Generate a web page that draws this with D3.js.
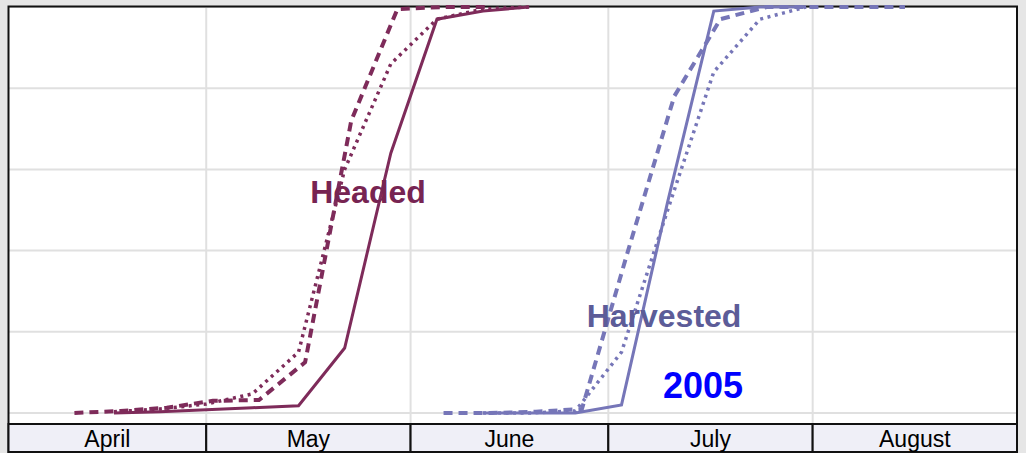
<!DOCTYPE html>
<html>
<head>
<meta charset="utf-8">
<script src="https://cdn.jsdelivr.net/npm/d3@7"></script>
<style>
  body { margin: 0; background: #e6e6e6; }
  svg { display: block; }
</style>
</head>
<body>
<div id="chart"></div>
<script>

// month labels along the bottom band
var months = ["April", "May", "June", "July", "August"];
var yTicks = [0, 20, 40, 60, 80, 100];

// Headed - current year (solid)
var headedSolidDates  = ["2005-04-17","2005-04-24","2005-05-01","2005-05-08","2005-05-15","2005-05-22","2005-05-29","2005-06-05","2005-06-12","2005-06-19"];
var headedSolidValues = [0, 0.3, 0.8, 1.3, 1.8, 16, 64, 97, 99, 100];
// Headed - last year (dashed)
var headedDashedDates  = ["2005-04-11","2005-04-18","2005-04-25","2005-05-02","2005-05-09","2005-05-16","2005-05-23","2005-05-30","2005-06-06","2005-06-13"];
var headedDashedValues = [0, 0.5, 1.3, 3, 3.2, 12.5, 72, 99.5, 100, 100];
// Headed - average (dotted)
var headedDottedDates  = ["2005-04-17","2005-04-24","2005-05-01","2005-05-08","2005-05-15","2005-05-22","2005-05-29","2005-06-05","2005-06-12","2005-06-19"];
var headedDottedValues = [0.3, 1, 2.2, 4.7, 15, 60, 86, 97, 99.5, 100];

// Harvested - current year (solid)
var harvSolidDates  = ["2005-06-12","2005-06-19","2005-06-26","2005-07-03","2005-07-10","2005-07-17","2005-07-24","2005-07-31"];
var harvSolidValues = [0, 0, 0, 2, 52, 99, 100, 100];
// Harvested - last year (dashed)
var harvDashedDates  = ["2005-06-06","2005-06-13","2005-06-20","2005-06-27","2005-07-04","2005-07-11","2005-07-18","2005-07-25","2005-08-01","2005-08-08","2005-08-15"];
var harvDashedValues = [0, 0, 0.3, 1, 40, 78, 97, 100, 100, 100, 100];
// Harvested - average (dotted)
var harvDottedDates  = ["2005-06-12","2005-06-19","2005-06-26","2005-07-03","2005-07-10","2005-07-17","2005-07-24","2005-07-31"];
var harvDottedValues = [0, 0, 0.5, 15, 50, 84, 97, 100];

var headedColor = "#7e2b5a",
    harvColor = "#7676b8";

var W = 1026, H = 453;
var plotL = 8.5, plotR = 1017, plotT = 7, plotB = 413;

var svg = d3.select("#chart")
  .append("svg")
    .attr("width", W)
    .attr("height", H);

var parse = d3.timeParse("%Y-%m-%d");

var x = d3.scaleTime()
  .domain([new Date(2005, 3, 1), new Date(2005, 8, 1)])
  .range([plotL, plotR]);

var y = d3.scaleLinear()
  .domain([0, 100])
  .range([plotB, plotT]);

// white plot area
svg.append("rect")
  .attr("x", plotL).attr("y", 6)
  .attr("width", plotR - plotL).attr("height", 424 - 6)
  .attr("fill", "#fff");

// horizontal grid
svg.append("g")
  .selectAll("line")
  .data(yTicks)
  .enter().append("line")
    .attr("x1", plotL).attr("x2", plotR)
    .attr("y1", function(d) { return y(d); })
    .attr("y2", function(d) { return y(d); })
    .attr("stroke", "#e0e0e0")
    .attr("stroke-width", 2);

// vertical grid at month starts
var monthStarts = d3.timeMonth.range(new Date(2005, 3, 1), new Date(2005, 8, 2));
svg.append("g")
  .selectAll("line")
  .data(monthStarts.slice(1, 5))
  .enter().append("line")
    .attr("x1", function(d) { return x(d); })
    .attr("x2", function(d) { return x(d); })
    .attr("y1", plotT).attr("y2", 423)
    .attr("stroke", "#e0e0e0")
    .attr("stroke-width", 2);

// frame
svg.append("path")
  .attr("d", "M" + plotL + "," + H + "V6.5H" + plotR + "V" + H)
  .attr("fill", "none")
  .attr("stroke", "#111")
  .attr("stroke-width", 2);

// lines
function series(dates, values) {
  return dates.map(function(d, i) { return { date: parse(d), value: values[i] }; });
}

var line = d3.line()
  .x(function(d) { return x(d.date); })
  .y(function(d) { return y(d.value); });

var lines = [
  { data: series(headedDottedDates, headedDottedValues), color: headedColor, width: 3.5, dash: "3,4.5" },
  { data: series(headedDashedDates, headedDashedValues), color: headedColor, width: 4, dash: "9,6" },
  { data: series(headedSolidDates, headedSolidValues), color: headedColor, width: 3, dash: null },
  { data: series(harvDottedDates, harvDottedValues), color: harvColor, width: 3.5, dash: "3,4.5" },
  { data: series(harvDashedDates, harvDashedValues), color: harvColor, width: 4, dash: "9,6" },
  { data: series(harvSolidDates, harvSolidValues), color: harvColor, width: 3, dash: null }
];

svg.append("g")
  .selectAll("path")
  .data(lines)
  .enter().append("path")
    .attr("d", function(d) { return line(d.data); })
    .attr("fill", "none")
    .attr("stroke", function(d) { return d.color; })
    .attr("stroke-width", function(d) { return d.width; })
    .attr("stroke-dasharray", function(d) { return d.dash; })
    .attr("stroke-linejoin", "miter");

// labels
svg.append("text")
  .attr("x", 368).attr("y", 203)
  .attr("text-anchor", "middle")
  .attr("font-family", "Liberation Sans, Arial, sans-serif")
  .attr("font-weight", "bold")
  .attr("font-size", 32)
  .attr("fill", "#772452")
  .text("Headed");

svg.append("text")
  .attr("x", 664).attr("y", 327)
  .attr("text-anchor", "middle")
  .attr("font-family", "Liberation Sans, Arial, sans-serif")
  .attr("font-weight", "bold")
  .attr("font-size", 32)
  .attr("fill", "#5c5c98")
  .text("Harvested");

svg.append("text")
  .attr("x", 703).attr("y", 398)
  .attr("text-anchor", "middle")
  .attr("font-family", "Liberation Sans, Arial, sans-serif")
  .attr("font-weight", "bold")
  .attr("font-size", 36)
  .attr("fill", "#0000ff")
  .text("2005");

// month band
var band = svg.append("g");
band.selectAll("rect")
  .data(monthStarts.slice(0, 5))
  .enter().append("rect")
    .attr("x", function(d) { return x(d); })
    .attr("y", 424)
    .attr("width", function(d) { return x(d3.timeMonth.offset(d, 1)) - x(d); })
    .attr("height", 28)
    .attr("fill", "#efeff7")
    .attr("stroke", "#111")
    .attr("stroke-width", 2);

band.selectAll("text")
  .data(monthStarts.slice(0, 5))
  .enter().append("text")
    .attr("x", function(d) { return (x(d) + x(d3.timeMonth.offset(d, 1))) / 2; })
    .attr("y", 447)
    .attr("text-anchor", "middle")
    .attr("font-family", "Liberation Sans, Arial, sans-serif")
    .attr("font-size", 23)
    .attr("fill", "#000")
    .text(function(d, i) { return months[i]; });

</script>
</body>
</html>
